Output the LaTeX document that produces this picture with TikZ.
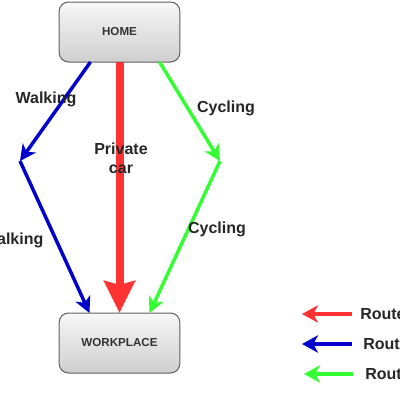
\documentclass[tikz,border=0pt]{standalone}
\usepackage{fontspec}
\setmainfont{Liberation Sans}
\usetikzlibrary{arrows.meta,calc}
\definecolor{rred}{RGB}{255,51,51}
\definecolor{rblue}{RGB}{0,0,204}
\definecolor{rgreen}{RGB}{51,255,51}
\begin{document}
\begin{tikzpicture}[x=0.75pt,y=-0.75pt,
  box/.style={draw=gray!75!black, line width=0.75pt, rounded corners=7pt,
    top color=gray!6, bottom color=gray!38, minimum width=90.5pt, minimum height=45pt,
    outer sep=0pt, inner sep=0pt, font=\bfseries\fontsize{8.7}{10}\selectfont, text=black!80},
  walk/.style={draw=rblue, line width=2.6pt, -{Stealth[length=12pt,width=12pt,inset=3.5pt]}},
  cyc/.style={draw=rgreen, line width=2.6pt, -{Stealth[length=12pt,width=12pt,inset=3.5pt]}},
  car/.style={draw=rred, line width=6pt, -{Stealth[length=24pt,width=23pt,inset=3pt]}},
  leg/.style={line width=3pt, -{Stealth[length=12pt,width=13pt,inset=3.5pt]}},
  lbl/.style={font=\bfseries\fontsize{12}{14}\selectfont, text=black!85, align=center, inner sep=0pt}
]
\useasboundingbox (0,0) rectangle (400,400);
\clip (0,0) rectangle (400,400);
\node[box] (home) at (119.5,32) {HOME};
\node[box] (work) at (119.5,343) {WORKPLACE};
\coordinate (wj) at (20,161);
\coordinate (cj) at (220,161);
\draw[walk] ($(home.south)+(-29,0)$) -- (wj);
\draw[walk] (wj) -- ($(work.north)+(-30,0)$);
\draw[car] (home.south) -- (work.north);
\draw[cyc] ($(home.south)+(40,0)$) -- (cj);
\draw[cyc] (cj) -- ($(work.north)+(30,0)$);
\node[lbl] (l1) at (46,99) {Walking};
\node[lbl] (l2) at (121,158) {Private\\car};
\node[lbl] (l3) at (226,108) {Cycling};
\node[lbl] (l4) at (13,240) {Walking};
\node[lbl] (l5) at (217,229) {Cycling};
\coordinate (r1a) at (352,314); \coordinate (r1b) at (302,314);
\coordinate (r2a) at (352,344); \coordinate (r2b) at (302,344);
\coordinate (r3a) at (353,374); \coordinate (r3b) at (304,374);
\draw[leg, draw=rred] (r1a) -- (r1b);
\draw[leg, draw=rblue] (r2a) -- (r2b);
\draw[leg, draw=rgreen] (r3a) -- (r3b);
\node[lbl, anchor=west] (t1) at (360,314) {Route};
\node[lbl, anchor=west] (t2) at (363,344) {Route};
\node[lbl, anchor=west] (t3) at (365,374) {Route};
\end{tikzpicture}
\end{document}
